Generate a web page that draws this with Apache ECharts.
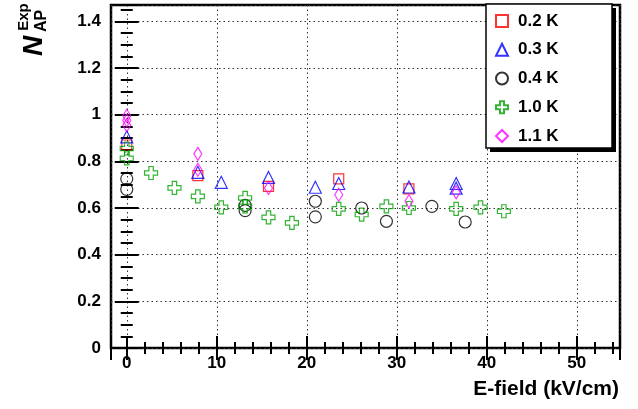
<!DOCTYPE html>
<html>
<head>
<meta charset="utf-8">
<script src="https://cdn.jsdelivr.net/npm/echarts@6/dist/echarts.min.js"></script>
<style>html,body{margin:0;padding:0;background:#fff;}#c{width:638px;height:409px;}</style>
</head>
<body>
<div id="c"></div>
<script>
// ---- data ----
const seriesNames = ['0.2 K', '0.3 K', '0.4 K', '1.0 K', '1.1 K'];
const data02 = [[0,0.87],[7.9,0.739],[15.75,0.693],[23.55,0.725],[31.35,0.682]];
const data03 = [[0,0.905],[7.9,0.753],[10.5,0.71],[15.75,0.731],[20.95,0.689],[23.55,0.705],[31.35,0.69],[36.6,0.705],[36.6,0.685]];
const data04 = [[0,0.725],[0,0.68],[13.15,0.611],[13.15,0.589],[20.95,0.629],[20.95,0.562],[26.1,0.6],[28.85,0.543],[33.9,0.607],[37.6,0.54]];
const data10 = [[0,0.855],[0,0.813],[2.7,0.75],[5.3,0.686],[7.9,0.65],[10.5,0.603],[13.15,0.643],[13.15,0.607],[15.75,0.56],[18.35,0.536],[23.55,0.596],[26.1,0.572],[28.85,0.607],[31.35,0.6],[36.6,0.596],[39.3,0.603],[41.9,0.586]];
const data11 = [[0,0.995],[0,0.975],[0,0.955],[7.9,0.832],[7.9,0.764],[15.75,0.686],[23.55,0.657],[31.35,0.629],[36.6,0.667]];
const xTickLabels = ['0','10','20','30','40','50'];
const yTickLabels = ['0','0.2','0.4','0.6','0.8','1','1.2','1.4'];
const xRange = [-1.75, 54.8];
const yRange = [0, 1.47];

// ---- styling ----
const FONT = '"Liberation Sans", Arial, Helvetica, sans-serif';
const crossPath = 'path://M3.3,0 L6.7,0 L6.7,3.3 L10,3.3 L10,6.7 L6.7,6.7 L6.7,10 L3.3,10 L3.3,6.7 L0,6.7 L0,3.3 L3.3,3.3 Z';
const styles = [
  {color:'#ff0000', symbol:'rect', size:10},
  {color:'#0000ff', symbol:'triangle', size:[12,12]},
  {color:'#000000', symbol:'circle', size:12},
  {color:'#00a000', symbol:crossPath, size:13},
  {color:'#ff00ff', symbol:'diamond', size:[8,13]}
];
const allData = [data02, data03, data04, data10, data11];

function fmt(list){
  return function(v){
    for (const s of list) { if (Math.abs(parseFloat(s) - v) < 1e-6) return s; }
    return '';
  };
}

const tickCommon = {show:true, inside:true, length:12, lineStyle:{color:'#000', width:2}};
const minorCommon = {show:true, length:6, lineStyle:{color:'#000', width:2}};

const chart = echarts.init(document.getElementById('c'), null, {renderer:'canvas'});
chart.setOption({
  animation:false,
  backgroundColor:'#fff',
  grid:{left:111, right:18, top:5, bottom:61, show:true, borderColor:'#000', borderWidth:2.5, backgroundColor:'transparent'},
  xAxis:[
    {type:'value', min:xRange[0], max:xRange[1], position:'bottom', splitNumber:5,
     axisLine:{show:false}, axisTick:Object.assign({}, tickCommon),
     minorTick:Object.assign({splitNumber:5}, minorCommon),
     axisLabel:{formatter:fmt(xTickLabels), color:'#000', fontFamily:FONT, fontWeight:'bold', fontSize:17, margin:7, showMinLabel:true, showMaxLabel:true},
     splitLine:{show:true, lineStyle:{color:'#333', width:1, type:[1.5,3]}}},
    {type:'value', min:xRange[0], max:xRange[1], position:'top', splitNumber:5,
     axisLine:{show:false}, axisTick:Object.assign({}, tickCommon),
     minorTick:Object.assign({splitNumber:5}, minorCommon),
     axisLabel:{show:false}, splitLine:{show:false}}
  ],
  yAxis:[
    {type:'value', min:yRange[0], max:yRange[1], position:'left', splitNumber:8,
     axisLine:{show:false}, axisTick:Object.assign({}, tickCommon),
     minorTick:Object.assign({splitNumber:4}, minorCommon),
     axisLabel:{formatter:fmt(yTickLabels), color:'#000', fontFamily:FONT, fontWeight:'bold', fontSize:17, margin:10},
     splitLine:{show:true, lineStyle:{color:'#333', width:1, type:[1.5,3]}}},
    {type:'value', min:yRange[0], max:yRange[1], position:'right', splitNumber:8,
     axisLine:{show:false}, axisTick:Object.assign({}, tickCommon),
     minorTick:Object.assign({splitNumber:4}, minorCommon),
     axisLabel:{show:false}, splitLine:{show:false}}
  ],
  legend:{
    orient:'vertical', left:495, top:12, padding:0, itemWidth:12, itemHeight:12, itemGap:10.75,
    z:20,
    textStyle:{fontFamily:FONT, fontWeight:'bold', fontSize:17, color:'#000', lineHeight:18, padding:[0,0,0,5]},
    data:seriesNames
  },
  graphic:[
    {type:'rect', z:15, shape:{x:490, y:8, width:126, height:144}, style:{fill:'#000'}},
    {type:'rect', z:16, shape:{x:486, y:4, width:126, height:144}, style:{fill:'#fff', stroke:'#000', lineWidth:1.5}},
    {type:'text', z:20, x:34, y:46, rotation:Math.PI/2, style:{text:'N', font:'italic bold 28px ' + FONT, textAlign:'center', textVerticalAlign:'middle', fill:'#000'}},
    {type:'text', z:20, x:42, y:21, rotation:Math.PI/2, style:{text:'AP', font:'bold 16px ' + FONT, textAlign:'center', textVerticalAlign:'middle', fill:'#000'}},
    {type:'text', z:20, x:24, y:17, rotation:Math.PI/2, style:{text:'Exp', font:'bold 15px ' + FONT, textAlign:'center', textVerticalAlign:'middle', fill:'#000'}},
    {type:'text', z:20, x:619, y:389, style:{text:'E-field (kV/cm)', font:'bold 21px ' + FONT, textAlign:'right', textVerticalAlign:'middle', fill:'#000'}}
  ],
  series: allData.map((d, i) => ({
    type:'scatter', name:seriesNames[i], data:d, xAxisIndex:0, yAxisIndex:0,
    symbol:styles[i].symbol, symbolSize:styles[i].size,
    itemStyle:{color:'rgba(255,255,255,0)', borderColor:styles[i].color, borderWidth:1.2},
    emphasis:{disabled:true}, z:3
  }))
});
</script>
</body>
</html>
